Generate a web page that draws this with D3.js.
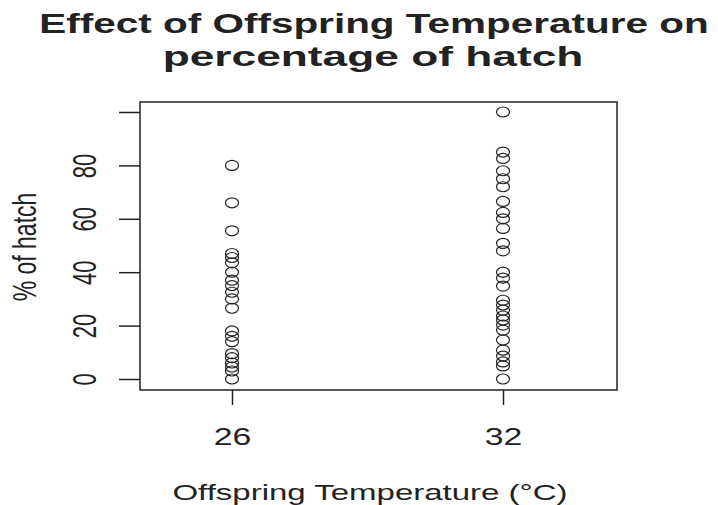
<!DOCTYPE html>
<html>
<head>
<meta charset="utf-8">
<script src="https://cdn.jsdelivr.net/npm/d3@7"></script>
<style>
  body { margin: 0; background: #fff; }
  text { font-family: "Liberation Sans", Arial, sans-serif; fill: #222; }
</style>
</head>
<body>
<div id="graph"></div>
<script>
// data
let temps = [26, 32];
let hatch26 = [80, 66, 55.5, 47, 45.5, 43.5, 40, 37, 35, 32.5, 30, 26.5, 18, 16, 14, 9.5, 8, 6, 4.5, 3, 0];
let hatch32 = [100, 85, 82.6, 78, 75, 72, 66.5, 62.4, 60, 56.4, 50.8, 48, 40, 37.8, 34.8, 29.5, 27.7, 25.8, 23.6, 22.1, 20.2, 18.3, 14.6, 10.8, 8.6, 6.4, 4.9, 0];
let yTicks = [0, 20, 40, 60, 80, 100];
let yLabels = ["0", "20", "40", "60", "80", ""];

let points = [];
hatch26.forEach(v => points.push({t: 26, v: v}));
hatch32.forEach(v => points.push({t: 32, v: v}));

let W = 718, H = 505;
let box = {left: 140, right: 617, top: 102, bottom: 390};
let sx = 1.47; // the picture is stretched sideways

let svg = d3.select("#graph")
    .append("svg")
    .attr("width", W)
    .attr("height", H);

let x = d3.scaleLinear()
    .domain([26, 32])
    .range([232, 503]);

let y = d3.scaleLinear()
    .domain([0, 100])
    .range([379, 112]);

// title
svg.append("text")
    .attr("transform", "translate(374,33) scale(1.5,1)")
    .attr("text-anchor", "middle")
    .style("font-size", "27px").style("font-weight", "bold")
    .text("Effect of Offspring Temperature on");
svg.append("text")
    .attr("transform", "translate(373,66) scale(1.64,1)")
    .attr("text-anchor", "middle")
    .style("font-size", "27px").style("font-weight", "bold")
    .text("percentage of hatch");

// box
svg.append("rect")
    .attr("x", box.left).attr("y", box.top)
    .attr("width", box.right - box.left)
    .attr("height", box.bottom - box.top)
    .attr("fill", "none")
    .attr("stroke", "#222")
    .attr("stroke-width", 1.5);

// y axis
let yAxis = svg.append("g")
    .attr("transform", "translate(" + box.left + ",0)")
    .call(d3.axisLeft(y).tickValues(yTicks).tickSize(21)
        .tickFormat((d, i) => yLabels[i]));
yAxis.select(".domain").remove();
yAxis.selectAll("line").attr("stroke", "#222").attr("stroke-width", 1.5);
yAxis.selectAll("text")
    .attr("x", 0).attr("y", 0).attr("dy", null)
    .attr("transform", "translate(-44,0) scale(" + sx + ",1) rotate(-90)")
    .attr("text-anchor", "middle")
    .style("font-size", "22px")
    .style("font-family", "Liberation Sans, Arial, sans-serif")
    .attr("fill", "#222");

// x axis
let xAxis = svg.append("g")
    .attr("transform", "translate(0," + box.bottom + ")")
    .call(d3.axisBottom(x).tickValues(temps).tickSize(15)
        .tickFormat(d3.format("d")));
xAxis.select(".domain").remove();
xAxis.selectAll("line").attr("stroke", "#222").attr("stroke-width", 1.5);
xAxis.selectAll("text")
    .attr("y", 0).attr("dy", null)
    .attr("transform", "translate(0,55) scale(" + sx + ",1)")
    .style("font-size", "23px")
    .style("font-family", "Liberation Sans, Arial, sans-serif")
    .attr("fill", "#222");

// axis titles
svg.append("text")
    .attr("transform", "translate(370,500) scale(1.5,1)")
    .attr("text-anchor", "middle")
    .style("font-size", "22px")
    .text("Offspring Temperature (°C)");
svg.append("text")
    .attr("transform", "translate(36,247) scale(" + sx + ",1) rotate(-90)")
    .attr("text-anchor", "middle")
    .style("font-size", "23px")
    .text("% of hatch");

// points
svg.append("g")
    .selectAll("ellipse")
    .data(points)
    .enter()
    .append("ellipse")
    .attr("cx", d => x(d.t))
    .attr("cy", d => y(d.v))
    .attr("rx", 6.5)
    .attr("ry", 5)
    .attr("fill", "none")
    .attr("stroke", "#222")
    .attr("stroke-width", 1.2);
</script>
</body>
</html>
